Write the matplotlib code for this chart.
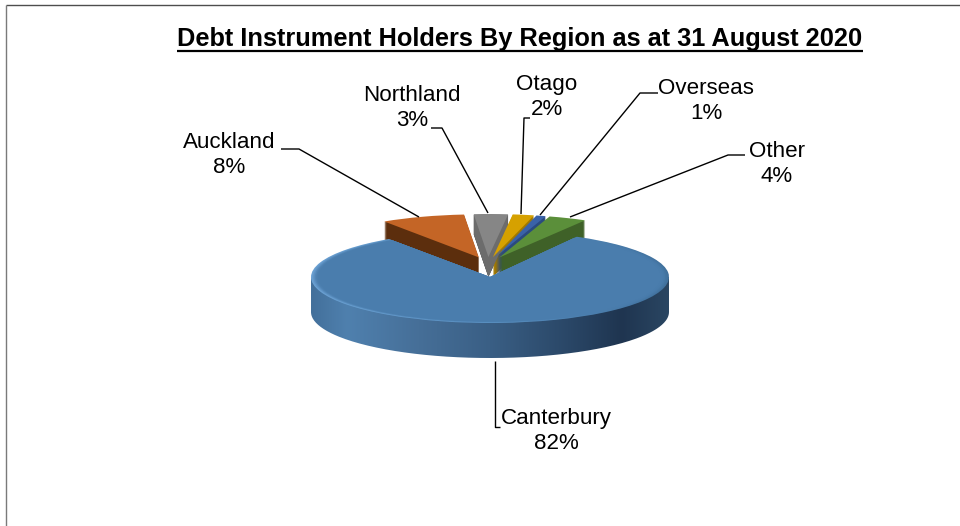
import numpy as np
import matplotlib
matplotlib.use("Agg")
import matplotlib.pyplot as plt
from matplotlib.colors import LinearSegmentedColormap, to_rgb
from matplotlib.patches import PathPatch, Rectangle
from matplotlib.path import Path
from matplotlib.transforms import Affine2D

# ---- data ----
regions = ["Canterbury", "Auckland", "Northland", "Otago", "Overseas", "Other"]
shares = [82.4, 7.9, 3.2, 2.0, 0.9, 3.6]
top_colors = ["#4a7dad", "#c46526", "#868686", "#d6a100", "#3a62a8", "#5b8f3a"]
wall_colors = ["#2c4a6a", "#5c2e0d", "#404040", "#a07800", "#2a4a80", "#3f6128"]
title = "Debt Instrument Holders By Region as at 31 August 2020"

# label centres and leader lines, in pixels from the top left of the picture
label_pos = {"Canterbury": (556, 431), "Auckland": (229, 155), "Northland": (412, 108),
             "Otago": (547, 97), "Overseas": (706, 101), "Other": (777, 164)}
leaders = {"Canterbury": [(500, 427), (495, 427), (495, 361)],
           "Auckland": [(281, 149), (299, 149), (419, 217)],
           "Northland": [(431, 128), (442, 128), (488, 213)],
           "Otago": [(530, 118), (524, 118), (521, 214)],
           "Overseas": [(658, 93), (640, 93), (540, 215)],
           "Other": [(745, 155), (728, 155), (570, 217)]}

W, H = 960, 526
fig = plt.figure(figsize=(W / 100, H / 100), dpi=100)
ax = fig.add_axes([0, 0, 1, 1])
plt.rcParams["font.family"] = ["Liberation Sans", "DejaVu Sans"]

START, REAR_START = 61, 60
CX, CY, R, B = 490, H - 277, 179, 46      # front slice
BX, BY, BR, BK = 488, H - 264, 172, 0.25  # pulled-out rear slices
PULL = 28
DEPTH = 35
REAR_DEPTH = 20


def draw(radius, k, cx, cy, explode, colors, show, z, start=START):
    """One pie squashed to an ellipse; only the slices in `show` stay visible."""
    wedges, _ = ax.pie(shares, colors=colors, startangle=start, counterclock=False,
                       radius=radius, explode=explode,
                       wedgeprops={"linewidth": 0, "antialiased": True})
    tr = Affine2D().scale(1, k).translate(cx, cy) + ax.transData
    for i, w in enumerate(wedges):
        w.set_transform(tr)
        w.set_zorder(z)
        w.set_visible(i in show)
    return wedges


rear_explode = [0] + [PULL] * 5
rear = [1, 2, 3, 4, 5]
lighter_right = ["#6c6c6c" if r == "Northland" else c for r, c in zip(regions, wall_colors)]

# rear slice walls: extruded copies
for d in np.arange(REAR_DEPTH, 0, -1.0):
    draw(BR, BK, BX, BY - d, rear_explode, wall_colors, rear, 2, REAR_START)
    ws = draw(BR, BK, BX, BY - d, rear_explode, lighter_right, [2], 2.1, REAR_START)
    ws[2].set_clip_path(Rectangle((BX + 1, 0), 200, H, transform=ax.transData))

# rear slice tops
draw(BR, BK, BX, BY, rear_explode, top_colors, rear, 3, REAR_START)

# front slice side wall, shaded left to right
t = np.linspace(0, np.pi, 200)
side_x = np.r_[CX + R * np.cos(t), CX - R, CX + R]
side_y = np.r_[CY - DEPTH - B * np.sin(t), CY, CY]
side = PathPatch(Path(np.c_[side_x, side_y]), transform=ax.transData, fc="none", ec="none")
ax.add_patch(side)
side_cmap = LinearSegmentedColormap.from_list(
    "side", [(0, "#43709b"), (0.1, "#4f80ae"), (0.3, "#466f98"), (0.5, "#3a5f85"),
             (0.72, "#2a4767"), (0.87, "#1f3550"), (1, "#2a4662")])
im = ax.imshow(np.linspace(0, 1, 256)[None, :], cmap=side_cmap, aspect="auto", zorder=4,
               extent=(CX - R, CX + R, CY - DEPTH - B, CY))
im.set_clip_path(side)

# front slice top with a bevelled rim
k_front = B / R
rim_wedge = draw(R, k_front, CX, CY, None, top_colors, [], 5)[0]
rim_cmap = LinearSegmentedColormap.from_list("rim", ["#6ea4d6", "#5f96c8", "#40709c"])
rim = ax.imshow(np.linspace(0, 1, 256)[None, :], cmap=rim_cmap, aspect="auto", zorder=5,
                extent=(CX - R, CX + R, CY - B, CY + B))
rim_wedge.set_visible(True)
rim_wedge.set_alpha(0)
rim.set_clip_path(rim_wedge)
for i, f in enumerate(np.linspace(0.995, 0.955, 6)):
    a = (i + 1) / 6
    draw(R * f, k_front, CX, CY, None, [(*to_rgb(top_colors[0]), a)] * 6, [0], 6)

# leader lines
for name, pts in leaders.items():
    xs, ys = zip(*pts)
    ax.plot(xs, [H - y for y in ys], color="black", lw=1.0, zorder=7, solid_capstyle="butt")

# labels
for name, value in zip(regions, shares):
    px, py = label_pos[name]
    ax.text(px, H - py, f"{name}\n{round(value)}%", ha="center", va="center",
            fontsize=16.1, color="black", linespacing=1.27, zorder=8)

# title with underline
ax.text(520, H - 39, title, ha="center", va="center", fontsize=18.3,
        fontweight="bold", color="black", zorder=8)
ax.plot([177, 863], [H - 51, H - 51], color="black", lw=1.6, zorder=8, solid_capstyle="butt")

# chart border (top and left only are inside the crop)
ax.plot([6, W], [H - 5, H - 5], color="#4d4d4d", lw=1.0, zorder=1, solid_capstyle="butt")
ax.plot([6, 6], [H - 5, 0], color="#7a7a7a", lw=1.0, zorder=1, solid_capstyle="butt")

ax.set_aspect("auto")
ax.set_xlim(0, W)
ax.set_ylim(0, H)
ax.axis("off")
fig.savefig("out.png", dpi=100, facecolor="white")
